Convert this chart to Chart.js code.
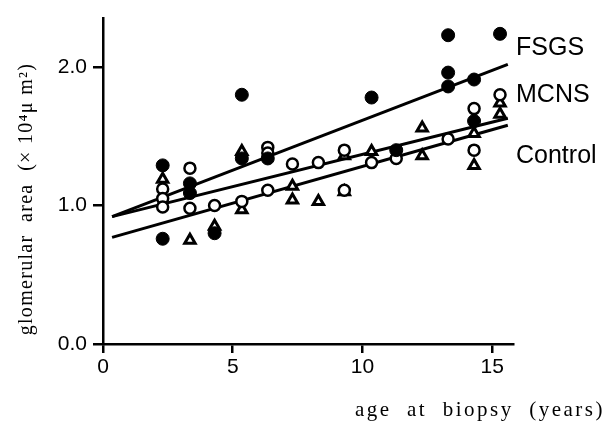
<!DOCTYPE html>
<html>
<head>
<meta charset="utf-8">
<script src="https://cdn.jsdelivr.net/npm/chart.js@4"></script>
<style>
  body { margin: 0; background: #fff; }
  #wrap { width: 608px; height: 427px; }
</style>
</head>
<body>
<div id="wrap"><canvas id="areaChart" width="608" height="427"></canvas></div>
<script>
// glomerular area vs age at biopsy
const fsgsAge  = [2.3, 2.3, 3.35, 3.35, 4.3, 5.35, 5.35, 6.35, 10.35, 11.3, 13.3, 13.3, 13.3, 14.3, 14.3, 15.3];
const fsgsArea = [1.29, 0.76, 1.16, 1.09, 0.80, 1.80, 1.34, 1.34, 1.78, 1.40, 2.23, 1.96, 1.86, 1.91, 1.61, 2.24];

const mcnsAge  = [2.3, 2.3, 2.3, 3.35, 3.35, 4.3, 5.35, 6.35, 6.35, 6.35, 7.3, 8.3, 9.3, 9.3, 10.35, 11.3, 13.3, 14.3, 14.3, 15.3];
const mcnsArea = [1.12, 1.05, 0.99, 1.27, 0.98, 1.00, 1.03, 1.42, 1.38, 1.11, 1.30, 1.31, 1.40, 1.11, 1.31, 1.34, 1.48, 1.70, 1.40, 1.80];

const ctrlAge  = [2.3, 3.35, 4.3, 5.35, 5.35, 7.3, 7.3, 8.3, 9.3, 9.3, 10.35, 12.3, 12.3, 14.3, 14.3, 15.3, 15.3];
const ctrlArea = [1.19, 0.75, 0.85, 1.39, 0.97, 1.14, 1.04, 1.03, 1.36, 1.10, 1.39, 1.56, 1.36, 1.52, 1.29, 1.74, 1.66];

// regression lines (end points)
const lineAge  = [0.35, 15.6];
const fsgsFit  = [0.92, 2.02];
const mcnsFit  = [0.92, 1.63];
const ctrlFit  = [0.77, 1.58];

const xTicks = [0, 5, 10, 15];
const yTicks = [0, 1, 2];

const groupNames = ['FSGS', 'MCNS', 'Control'];
const labelY = [2.14, 1.80, 1.36];

function pts(xs, ys) {
    return xs.map((x, i) => ({x: x, y: ys[i]}));
}

function fitLine(ys) {
    return {
        type: 'line',
        data: pts(lineAge, ys),
        borderColor: '#000',
        borderWidth: 3,
        pointRadius: 0,
        fill: false,
        order: 5
    };
}

// text drawn straight on the canvas: group names and axis titles
const textPlugin = {
    id: 'figureText',
    afterDraw(chart) {
        const ctx = chart.ctx;
        const xs = chart.scales.x;
        const ys = chart.scales.y;
        ctx.save();
        ctx.fillStyle = '#000';
        ctx.font = '25px "Liberation Sans", Arial, sans-serif';
        ctx.textAlign = 'left';
        ctx.textBaseline = 'middle';
        groupNames.forEach((name, i) => {
            ctx.fillText(name, xs.right + 3, ys.getPixelForValue(labelY[i]));
        });

        ctx.font = '21px "Liberation Serif", "Times New Roman", serif';
        ctx.letterSpacing = '2.5px';
        ctx.textAlign = 'right';
        ctx.textBaseline = 'alphabetic';
        ctx.fillText('age  at  biopsy  (years)', 605, 416);

        ctx.font = '20px "Liberation Serif", "Times New Roman", serif';
        ctx.letterSpacing = '1.3px';
        ctx.translate(27, 199);
        ctx.rotate(-Math.PI / 2);
        ctx.textAlign = 'center';
        ctx.textBaseline = 'middle';
        ctx.fillText('glomerular  area  (\u00d7 10\u2074\u03bc m\u00b2)', 0, 0);
        ctx.restore();
    }
};

new Chart(document.getElementById('areaChart'), {
    type: 'scatter',
    data: {
        datasets: [{
            label: 'FSGS',
            data: pts(fsgsAge, fsgsArea),
            pointStyle: 'circle',
            pointRadius: 6.5,
            backgroundColor: '#000',
            borderColor: '#000',
            borderWidth: 1,
            order: 1
        }, {
            label: 'MCNS',
            data: pts(mcnsAge, mcnsArea),
            pointStyle: 'circle',
            pointRadius: 5.5,
            backgroundColor: '#fff',
            borderColor: '#000',
            borderWidth: 2.5,
            order: 2
        }, {
            label: 'Control',
            data: pts(ctrlAge, ctrlArea),
            pointStyle: 'triangle',
            pointRadius: 6,
            backgroundColor: '#fff',
            borderColor: '#000',
            borderWidth: 3,
            order: 3
        },
        fitLine(fsgsFit),
        fitLine(mcnsFit),
        fitLine(ctrlFit)]
    },
    options: {
        responsive: false,
        animation: false,
        layout: {
            padding: {left: 0, right: 95, top: 13, bottom: 0}
        },
        plugins: {
            legend: {display: false},
            tooltip: {enabled: false}
        },
        scales: {
            x: {
                type: 'linear',
                min: 0,
                max: 15.8,
                afterFit: function(scale) { scale.height = 83; },
                afterBuildTicks: function(scale) {
                    scale.ticks = xTicks.map(v => ({value: v}));
                },
                border: {color: '#000', width: 2.5},
                grid: {
                    drawOnChartArea: false,
                    color: '#000',
                    lineWidth: 2.5,
                    tickLength: 9
                },
                ticks: {
                    color: '#000',
                    padding: 2,
                    font: {family: '"Liberation Sans", Arial, sans-serif', size: 21}
                }
            },
            y: {
                type: 'linear',
                min: 0,
                max: 2.35,
                afterFit: function(scale) { scale.width = 103; },
                afterBuildTicks: function(scale) {
                    scale.ticks = yTicks.map(v => ({value: v}));
                },
                border: {color: '#000', width: 2.5},
                grid: {
                    drawOnChartArea: false,
                    color: '#000',
                    lineWidth: 2.5,
                    tickLength: 10
                },
                ticks: {
                    color: '#000',
                    padding: 6,
                    font: {family: '"Liberation Sans", Arial, sans-serif', size: 21},
                    callback: v => v.toFixed(1)
                }
            }
        }
    },
    plugins: [textPlugin]
});
</script>
</body>
</html>
